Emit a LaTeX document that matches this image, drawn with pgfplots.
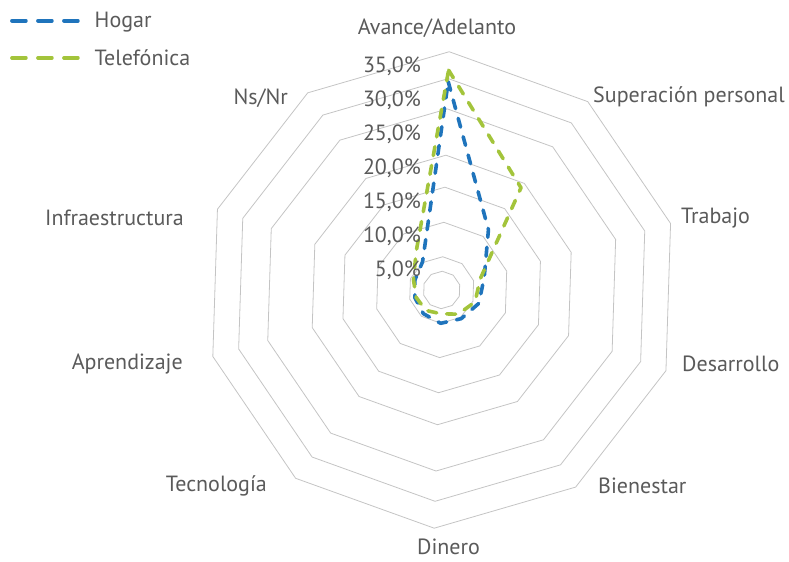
\documentclass[border=0pt]{standalone}
\usepackage{fontspec}
\setmainfont{PT Sans}
\usepackage{pgfplots}
\usepackage{pgfplotstable}
\pgfplotsset{compat=1.18}
\definecolor{hogar}{HTML}{1F74BC}
\definecolor{tel}{HTML}{A3C43B}
\definecolor{ringc}{HTML}{C4C4C4}
\definecolor{txt}{HTML}{5A5A5A}

% angle (deg), Hogar (%), Telefonica (%) -- first row repeated to close
\pgfplotstableread{
a      h     t
88.2   30.6  32.3
52.2   11.2  19.0
16.2   6.5   5.9
-19.8  5.8   5.2
-55.8  5.1   4.3
-91.8  4.9   3.5
-127.8 4.4   3.8
-163.8 4.1   3.9
160.2  4.2   4.4
124.2  5.0   6.7
88.2   30.6  32.3
}\radar

\begin{document}
\begin{tikzpicture}[lbl/.style={font=\fontsize{22}{26}\selectfont, text=txt}]
\begin{axis}[
x=6.81pt, y=6.81pt,
xmin=-64.86, xmax=51.0, ymin=-39.94, ymax=42.58,
hide axis, clip=false,
legend style={at={(axis cs:-63.4,41.1)}, anchor=north west, draw=none, fill=none,
  font=\fontsize{22}{26}\selectfont, text=txt, row sep=16pt, inner sep=0pt,
  /tikz/every odd column/.append style={column sep=13pt}},
legend cell align=left,
legend image code/.code={\draw[#1, dash pattern=on 14pt off 12pt] (0pt,0pt) -- (66pt,0pt);},
serie/.style={line width=3.6pt, dash pattern=on 9pt off 10pt, line cap=round, line join=round},
]
\pgfplotsinvokeforeach{2.75,4.88,9.94,15.1,19.8,26.6,31.05,35}{
  \addplot[ringc, line width=0.8pt, forget plot]
    table[x expr={#1*cos(\thisrow{a})}, y expr={#1*sin(\thisrow{a})}] {\radar};
}
\addplot[serie, hogar] table[x expr={\thisrow{h}*cos(\thisrow{a})}, y expr={\thisrow{h}*sin(\thisrow{a})}] {\radar};
\addlegendentry{Hogar}
\addplot[serie, tel] table[x expr={\thisrow{t}*cos(\thisrow{a})}, y expr={\thisrow{t}*sin(\thisrow{a})}] {\radar};
\addlegendentry{Telefónica}

% category labels
\node[lbl, anchor=center] at (axis cs:-0.69,38.47) {Avance/Adelanto};
\node[lbl, anchor=west] at (axis cs:21.73,28.34) {Superación personal};
\node[lbl, anchor=west] at (axis cs:34.65,10.57) {Trabajo};
\node[lbl, anchor=west] at (axis cs:34.80,-10.87) {Desarrollo};
\node[lbl, anchor=west] at (axis cs:22.46,-28.78) {Bienestar};
\node[lbl, anchor=center, inner sep=0pt] at (axis cs:1.0,-37.75) {Dinero};
\node[lbl, anchor=east] at (axis cs:-25.16,-28.78) {Tecnología};
\node[lbl, anchor=east] at (axis cs:-37.50,-10.87) {Aprendizaje};
\node[lbl, anchor=east] at (axis cs:-37.35,10.57) {Infraestructura};
\node[lbl, anchor=east] at (axis cs:-22.08,28.19) {Ns/Nr};

% radial scale labels
\node[lbl, anchor=east] at (axis cs:-2.53,32.89) {35,0\%};
\node[lbl, anchor=east] at (axis cs:-2.53,27.90) {30,0\%};
\node[lbl, anchor=east] at (axis cs:-2.53,22.91) {25,0\%};
\node[lbl, anchor=east] at (axis cs:-2.53,17.91) {20,0\%};
\node[lbl, anchor=east] at (axis cs:-2.53,12.92) {15,0\%};
\node[lbl, anchor=east] at (axis cs:-2.53,7.93) {10,0\%};
\node[lbl, anchor=east] at (axis cs:-2.53,2.94) {5,0\%};
\end{axis}
\pgfresetboundingbox
\useasboundingbox (current axis.south west) rectangle (current axis.north east);
\end{tikzpicture}
\end{document}
